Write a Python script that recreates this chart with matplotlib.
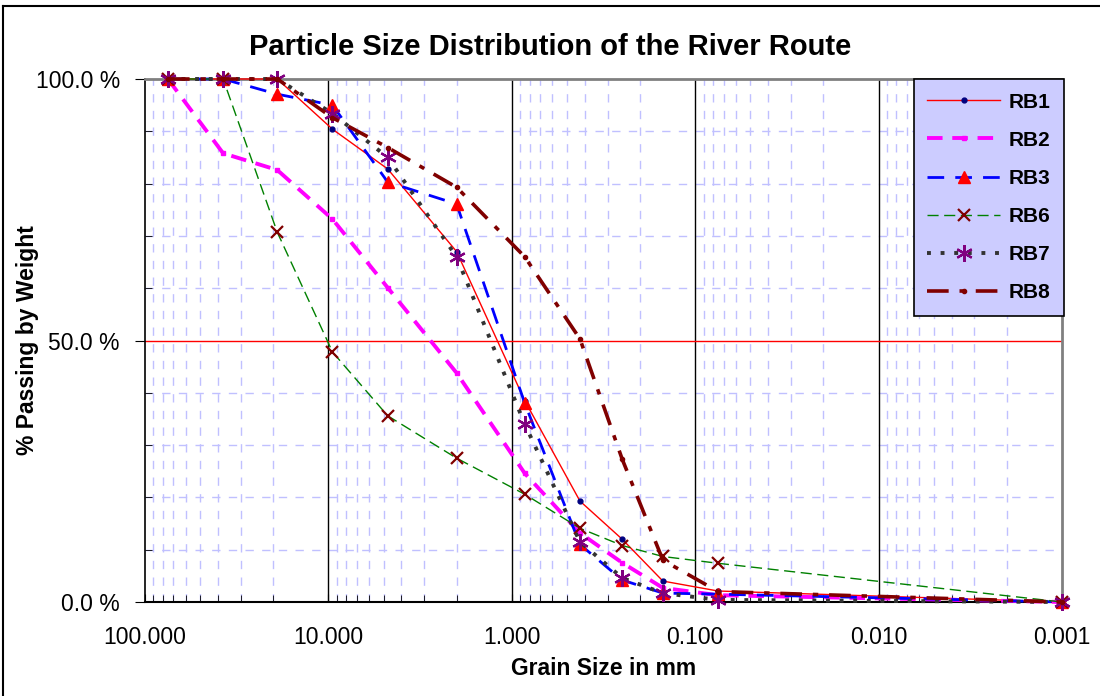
import matplotlib.pyplot as plt
from matplotlib.lines import Line2D
from matplotlib.ticker import FixedLocator, FuncFormatter

# sieve sizes (mm) and % passing
sizes = [75, 37.5, 19, 9.5, 4.75, 2.0, 0.85, 0.425, 0.25, 0.15, 0.075, 0.001]

rb1 = [100, 100, 100, 90.4, 82.8, 67.0, 38.5, 19.3, 12.0, 4.0, 2.1, 0]
rb2 = [100, 85.8, 82.6, 73.2, 60.1, 43.8, 24.6, 13.2, 7.5, 2.7, 1.3, 0]
rb3 = [100, 100, 97.1, 95.0, 80.3, 76.1, 38.0, 11.0, 4.2, 1.7, 1.5, 0]
rb6 = [100, 100, 70.7, 47.8, 35.6, 27.5, 20.6, 14.1, 10.8, 8.7, 7.4, 0]
rb7 = [100, 100, 100, 93.4, 85.0, 66.0, 34.0, 11.5, 4.6, 1.7, 0.4, 0]
rb8 = [100, 100, 100, 92.6, 86.9, 79.3, 66.0, 50.3, 27.3, 8.0, 2.0, 0]

plt.rcParams['font.family'] = ['Liberation Sans', 'DejaVu Sans']

fig = plt.figure(figsize=(11, 6.96), dpi=100)
ax = fig.add_axes([145 / 1100, 1 - 602 / 696, (1062 - 145) / 1100, (602 - 79) / 696])

# figure frame (top and left edges)
fig.add_artist(Line2D([3 / 1100, 3 / 1100], [0, 1 - 6 / 696], color='black', lw=1.5,
                      transform=fig.transFigure))
fig.add_artist(Line2D([3 / 1100, 1], [1 - 6 / 696, 1 - 6 / 696], color='black', lw=1.5,
                      transform=fig.transFigure))

ax.set_xscale('log')
ax.set_xlim(100, 0.001)
ax.set_ylim(0, 100)

# grid
for d in [10, 1, 0.1, 0.01]:
    ax.axvline(d, color='black', lw=1, zorder=1)
minors = [m * 10.0 ** e for e in range(-3, 2) for m in range(2, 10)]
for v in minors:
    ax.axvline(v, color='#C0C0FF', lw=1, ls=(0, (6, 6)), zorder=0)
for p in range(10, 100, 10):
    if p == 50:
        continue
    ax.axhline(p, color='#C0C0FF', lw=1, ls=(0, (6, 6)), zorder=0)
ax.axhline(50, color='red', lw=1, zorder=1)

kw = dict(clip_on=False, zorder=3)
ax.plot(sizes, rb1, color='red', lw=1, marker='o', ms=3.5, mfc='#000080', mec='#000080',
        label='RB1', **kw)
ax.plot(sizes, rb2, color='magenta', lw=2.8, ls=(0, (4, 2.5)), marker='s', ms=3,
        mfc='magenta', mec='magenta', label='RB2', **kw)
ax.plot(sizes, rb3, color='blue', lw=2, ls=(0, (6, 4)), marker='^', ms=8,
        mfc='red', mec='red', label='RB3', **kw)
ax.plot(sizes, rb6, color='green', lw=1, ls=(0, (8, 4)), marker='x', ms=8, mew=1.6,
        mec='#800000', label='RB6', **kw)
ax.plot(sizes, rb7, color='#333333', lw=2.8, ls=(0, (1, 2.5)), marker=(6, 2, 0), ms=12,
        mew=1.6, mec='#800080', label='RB7', **kw)
ax.plot(sizes, rb8, color='#800000', lw=2.6, ls=(0, (6, 3, 1.5, 3)), marker='o', ms=3,
        mfc='#800000', mec='#800000', label='RB8', **kw)

# ticks
ax.xaxis.set_major_locator(FixedLocator([100, 10, 1, 0.1, 0.01, 0.001]))
ax.xaxis.set_major_formatter(FuncFormatter(lambda v, p: f'{v:.3f}'))
ax.xaxis.set_minor_locator(FixedLocator(minors))
ax.xaxis.set_minor_formatter(FuncFormatter(lambda v, p: ''))
ax.tick_params(axis='x', which='major', direction='in', length=6, labelsize=16.5, pad=17)
ax.tick_params(axis='x', which='minor', direction='in', length=5)
ax.yaxis.set_major_locator(FixedLocator([0, 50, 100]))
ax.yaxis.set_major_formatter(FuncFormatter(lambda v, p: f'{v:.1f} %'))
ax.yaxis.set_minor_locator(FixedLocator(list(range(10, 100, 10))))
ax.tick_params(axis='y', which='major', direction='out', length=7, labelsize=16.5, pad=11)
ax.tick_params(axis='y', which='minor', direction='in', length=5)

ax.spines['top'].set_color('#808080')
ax.spines['right'].set_color('#808080')
ax.spines['top'].set_linewidth(2)
ax.spines['right'].set_linewidth(2)
ax.spines['left'].set_linewidth(1.2)
ax.spines['bottom'].set_linewidth(1.5)

ax.set_xlabel('Grain Size in mm', fontsize=16.5, fontweight='bold', labelpad=6)
ax.set_ylabel('% Passing by Weight', fontsize=16.5, fontweight='bold')
ax.yaxis.set_label_coords((39 - 145) / 917, 0.5)
fig.text(0.5, 1 - 47 / 696, 'Particle Size Distribution of the River Route',
         ha='center', va='center', fontsize=21, fontweight='bold')

leg = ax.legend(loc='upper right', bbox_to_anchor=(1064 / 1100, 1 - 79 / 696),
                bbox_transform=fig.transFigure, fancybox=False, framealpha=1,
                facecolor='#CCCCFF', edgecolor='black', borderpad=0.65, labelspacing=0.92,
                handlelength=3.5, handletextpad=0.4, borderaxespad=0,
                prop={'weight': 'bold', 'size': 15})
leg.get_frame().set_linewidth(1.2)

fig.savefig('out.png', dpi=100)
